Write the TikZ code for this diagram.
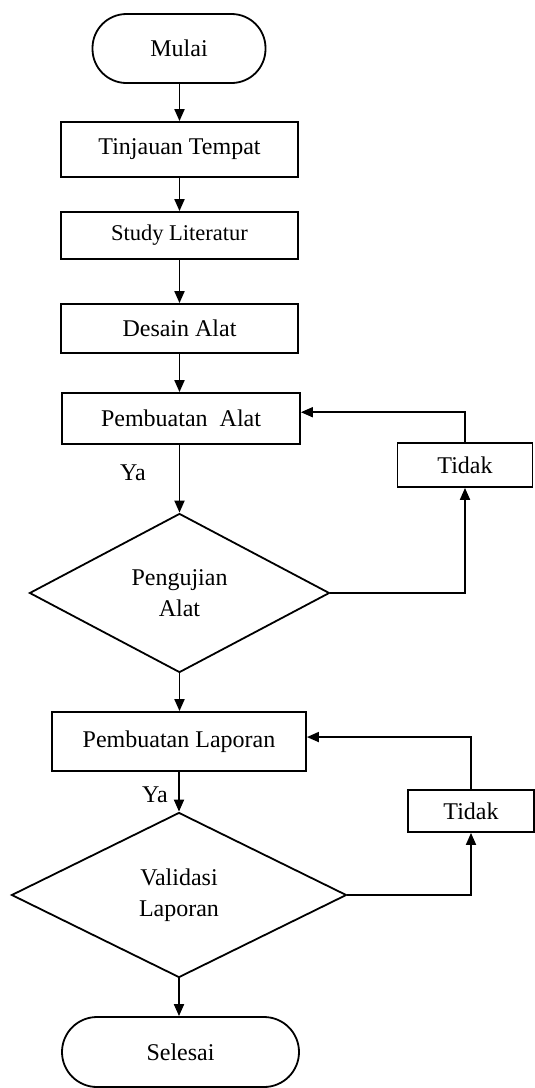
\documentclass[tikz,border=0pt]{standalone}
\usepackage{fontspec}
\setmainfont{Liberation Serif}
\usetikzlibrary{shapes.geometric,arrows.meta}

\begin{document}
\begin{tikzpicture}[x=1pt,y=-1pt,
  box/.style={draw,line width=1.8pt,rectangle,inner sep=0pt,font=\fontsize{24}{31}\selectfont},
  ends/.style={box,rounded corners=34pt},
  cek/.style={draw,line width=1.8pt,diamond,inner sep=0pt,align=center,font=\fontsize{24}{31}\selectfont},
  teks/.style={inner sep=0pt,font=\fontsize{24}{31}\selectfont},
  panah/.style={line width=1.8pt,-{Triangle[length=12pt,width=10pt]}}]
\useasboundingbox (0,0) rectangle (535,1088);
\node[ends,minimum width=173pt,minimum height=69pt] (mulai) at (179,48.5) {Mulai};
\node[box,minimum width=237pt,minimum height=55pt] (tinjauan) at (179.5,149.5) {Tinjauan Tempat};
\node[box,minimum width=237pt,minimum height=47pt,font=\fontsize{22.5}{28}\selectfont] (study) at (179.5,235.5) {Study Literatur};
\node[box,minimum width=237pt,minimum height=49pt] (desain) at (179.5,328.5) {Desain Alat};
\node[box,minimum width=238pt,minimum height=51pt] (alat) at (181,418.5) {Pembuatan\ \ Alat};
\node[teks] (ya1) at (133,473) {Ya};
\node[cek,minimum width=300pt,minimum height=159pt] (uji) at (179.5,593) {Pengujian\\Alat};
\node[box,minimum width=135pt,minimum height=44pt] (tidak1) at (465,465) {Tidak};
\node[box,minimum width=254pt,minimum height=59pt] (laporan) at (179,741.5) {Pembuatan Laporan};
\node[teks] (ya2) at (155,795) {Ya};
\node[cek,minimum width=335pt,minimum height=165pt] (validasi) at (179,895) {Validasi\\Laporan};
\node[box,minimum width=126pt,minimum height=42pt] (tidak2) at (471,811) {Tidak};
\node[ends,minimum width=237pt,minimum height=70pt,rounded corners=35pt] (selesai) at (180.5,1052) {Selesai};

% alur utama
\draw[panah] (mulai.south -| tinjauan) -- (tinjauan.north);
\draw[panah] (tinjauan) -- (study);
\draw[panah] (study) -- (desain);
\draw[panah] (desain.south) -- (desain.south |- alat.north);
\draw[panah] (alat.south -| uji) -- (uji.north);
\draw[panah] (uji.south) -- (uji.south |- laporan.north);
\draw[panah] (laporan.south) -- (validasi.north);
\draw[panah] (validasi.south) -- (validasi.south |- selesai.north);

% umpan balik
\draw[panah] (uji.east) -| (tidak1.south);
\draw[panah] (tidak1.north) |- (alat.3);
\draw[panah] (validasi.east) -| (tidak2.south);
\draw[panah] (tidak2.north) |- (laporan.2);
\end{tikzpicture}
\end{document}
